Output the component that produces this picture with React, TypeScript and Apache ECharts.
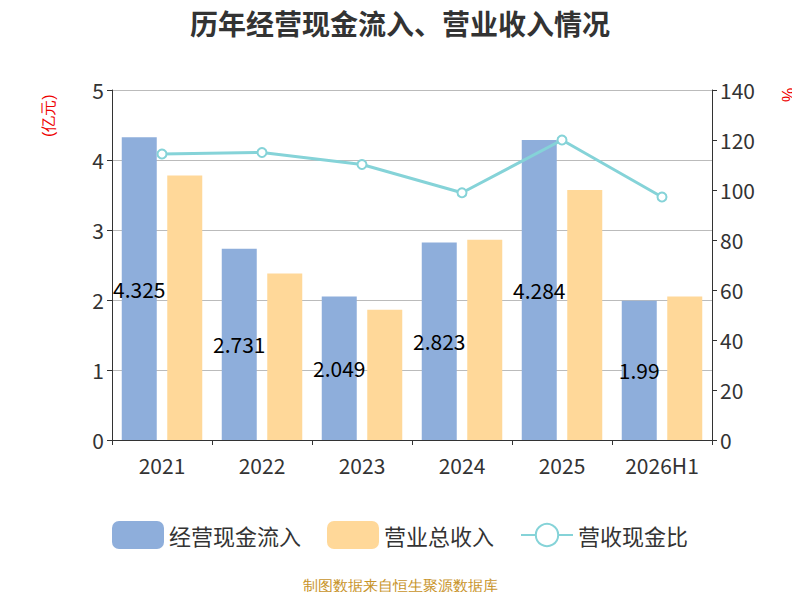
import { useEffect, useRef } from 'react';
import * as echarts from 'echarts';

const years = ['2021', '2022', '2023', '2024', '2025', '2026H1'];
const cashInflow = [4.325, 2.731, 2.049, 2.823, 4.284, 1.99];
const revenue = [3.78, 2.38, 1.86, 2.86, 3.57, 2.05];
const ratio = [114.4, 115.0, 110.2, 98.9, 120.0, 97.2];

export default function App() {
  const ref = useRef<HTMLDivElement | null>(null);

  useEffect(() => {
    const el = ref.current;
    if (!el) return;
    const chart = echarts.init(el, undefined, { renderer: 'svg' });
    const axisText = { color: '#333', fontSize: 21 };
    chart.setOption({
      animation: false,
      textStyle: { fontFamily: 'Noto Sans CJK SC' },
      title: {
        text: '历年经营现金流入、营业收入情况',
        left: 'center',
        top: 4,
        textStyle: { fontSize: 28, fontWeight: 'bold', color: '#333' },
      },
      grid: { left: 112, right: 88, top: 90, bottom: 160 },
      legend: {
        bottom: 46,
        left: 'center',
        itemWidth: 52,
        itemHeight: 28,
        itemGap: 26,
        textStyle: { fontSize: 22, color: '#333' },
        data: [
          { name: '经营现金流入', icon: 'roundRect' },
          { name: '营业总收入', icon: 'roundRect' },
          { name: '营收现金比' },
        ],
      },
      graphic: [
        {
          type: 'text', x: 40, y: 137, rotation: Math.PI / 2,
          style: { text: '(亿元)', fill: '#e00', fontSize: 16 },
        },
        {
          type: 'text', x: 780, y: 102, rotation: Math.PI / 2,
          style: { text: '%', fill: '#e00', fontSize: 16 },
        },
        {
          type: 'text', left: 'center', top: 578,
          style: { text: '制图数据来自恒生聚源数据库', fill: '#c8942a', fontSize: 15 },
        },
      ],
      xAxis: {
        type: 'category',
        data: years,
        axisLine: { lineStyle: { color: '#333' } },
        axisTick: { show: true, lineStyle: { color: '#333' } },
        axisLabel: { ...axisText, margin: 14 },
      },
      yAxis: [
        {
          type: 'value', min: 0, max: 5, interval: 1,
          axisLine: { show: true, lineStyle: { color: '#333' } },
          axisTick: { show: true, lineStyle: { color: '#333' } },
          axisLabel: axisText,
          splitLine: { lineStyle: { color: '#bbb' } },
        },
        {
          type: 'value', min: 0, max: 140, interval: 20,
          axisLine: { show: true, lineStyle: { color: '#333' } },
          axisTick: { show: true, lineStyle: { color: '#333' } },
          axisLabel: axisText,
          splitLine: { show: false },
        },
      ],
      series: [
        {
          name: '经营现金流入', type: 'bar', data: cashInflow, barWidth: 35, barGap: '30%',
          itemStyle: { color: '#8eaedb' },
          label: { show: true, position: 'inside', color: '#000', fontSize: 21 },
        },
        {
          name: '营业总收入', type: 'bar', data: revenue, barWidth: 35,
          itemStyle: { color: '#ffd899' },
        },
        {
          name: '营收现金比', type: 'line', yAxisIndex: 1, data: ratio,
          symbol: 'circle', symbolSize: 9,
          lineStyle: { color: '#85d3d8', width: 3 },
          itemStyle: { color: '#fff', borderColor: '#85d3d8', borderWidth: 2 },
        },
      ],
    });
    return () => chart.dispose();
  }, []);

  return <div ref={ref} style={{ width: 800, height: 600, margin: -8 }} />;
}
